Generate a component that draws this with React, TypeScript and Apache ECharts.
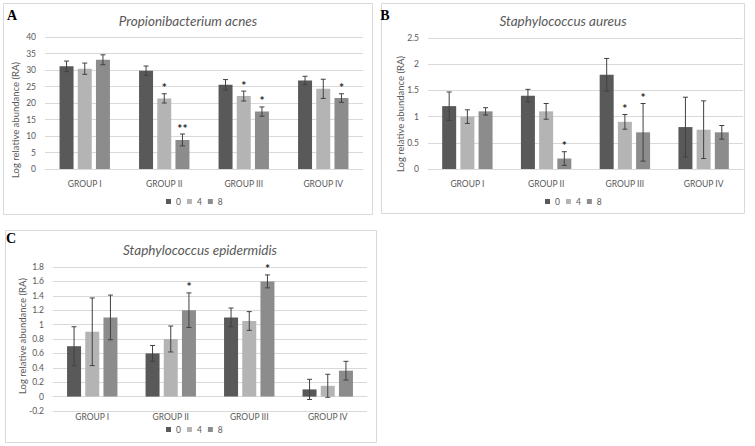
import React, { useEffect, useRef } from 'react';
import * as echarts from 'echarts';

const groups = ['GROUP I', 'GROUP II', 'GROUP III', 'GROUP IV'];
const seriesNames = ['0', '4', '8'];

// Panel A - Propionibacterium acnes
const aMean0 = [31.1, 29.8, 25.5, 26.8];
const aMean4 = [30.4, 21.4, 22.1, 24.3];
const aMean8 = [33.1, 8.8, 17.4, 21.5];
const aErr0 = [1.6, 1.4, 1.6, 1.3];
const aErr4 = [1.7, 1.4, 1.5, 2.9];
const aErr8 = [1.5, 1.8, 1.4, 1.3];
const aSig0 = ['', '', '', ''];
const aSig4 = ['', '*', '*', ''];
const aSig8 = ['', '**', '*', '*'];
const aTicks = { min: 0, max: 40, interval: 5 };

// Panel B - Staphylococcus aureus
const bMean0 = [1.2, 1.4, 1.8, 0.8];
const bMean4 = [1.0, 1.1, 0.9, 0.75];
const bMean8 = [1.1, 0.2, 0.7, 0.7];
const bErr0 = [0.27, 0.12, 0.31, 0.57];
const bErr4 = [0.13, 0.15, 0.14, 0.55];
const bErr8 = [0.07, 0.13, 0.55, 0.13];
const bSig0 = ['', '', '', ''];
const bSig4 = ['', '', '*', ''];
const bSig8 = ['', '*', '*', ''];
const bTicks = { min: 0, max: 2.5, interval: 0.5 };

// Panel C - Staphylococcus epidermidis
const cMean0 = [0.7, 0.6, 1.1, 0.1];
const cMean4 = [0.9, 0.8, 1.05, 0.15];
const cMean8 = [1.1, 1.2, 1.6, 0.36];
const cErr0 = [0.27, 0.11, 0.13, 0.14];
const cErr4 = [0.47, 0.18, 0.13, 0.16];
const cErr8 = [0.31, 0.24, 0.09, 0.13];
const cSig0 = ['', '', '', ''];
const cSig4 = ['', '', '', ''];
const cSig8 = ['', '*', '*', ''];
const cTicks = { min: -0.2, max: 1.8, interval: 0.2 };

const colors = ['#595959', '#b4b4b4', '#8c8c8c'];
const FONT = 'Lato';
const BAR_W = 14;
const GAP = 0.3;

function panelSeries(gi: number, means: number[][], errs: number[][], sigs: string[][]) {
  const out: any[] = [];
  means.forEach((m, k) => {
    out.push({
      type: 'bar',
      name: seriesNames[k],
      xAxisIndex: gi,
      yAxisIndex: gi,
      data: m,
      barWidth: BAR_W,
      barGap: GAP * 100 + '%',
      itemStyle: { color: colors[k] },
      z: 2,
    });
  });
  means.forEach((m, k) => {
    out.push({
      type: 'custom',
      name: 'err' + gi + '_' + k,
      xAxisIndex: gi,
      yAxisIndex: gi,
      z: 5,
      data: m.map((v, i) => [i, v, errs[k][i]]),
      renderItem: (params: any, api: any) => {
        const i = api.value(0);
        const v = api.value(1);
        const e = api.value(2);
        const cx = api.coord([i, v])[0] + (k - 1) * BAR_W * (1 + GAP);
        const yTop = api.coord([i, v + e])[1];
        const yBot = api.coord([i, v - e])[1];
        const st = { stroke: '#404040', lineWidth: 1 };
        const children: any[] = [
          { type: 'line', shape: { x1: cx, y1: yTop, x2: cx, y2: yBot }, style: st },
          { type: 'line', shape: { x1: cx - 2.5, y1: yTop, x2: cx + 2.5, y2: yTop }, style: st },
          { type: 'line', shape: { x1: cx - 2.5, y1: yBot, x2: cx + 2.5, y2: yBot }, style: st },
        ];
        const s = sigs[k][params.dataIndex];
        if (s) {
          children.push({
            type: 'text',
            x: cx,
            y: yTop - 6,
            style: { text: s, align: 'center', verticalAlign: 'middle', font: `bold 12px ${FONT}`, fill: '#262626' },
          });
        }
        return { type: 'group', children };
      },
    });
  });
  return out;
}

const grids = [
  { left: 45, top: 37, width: 318, height: 132 },
  { left: 428, top: 38, width: 315, height: 131 },
  { left: 53, top: 267, width: 314, height: 144 },
];

function xAxis(gi: number, labelMargin: number) {
  return {
    type: 'category',
    gridIndex: gi,
    data: groups,
    axisTick: { show: false },
    axisLine: { show: true, onZero: true, lineStyle: { color: '#d9d9d9' } },
    axisLabel: { fontSize: 8.5, color: '#595959', fontFamily: FONT, margin: labelMargin },
  };
}

function yAxis(gi: number, t: { min: number; max: number; interval: number }) {
  return {
    type: 'value',
    gridIndex: gi,
    min: t.min,
    max: t.max,
    interval: t.interval,
    axisLine: { show: false },
    axisTick: { show: false },
    splitLine: { lineStyle: { color: '#d9d9d9' } },
    axisLabel: { fontSize: 8.5, color: '#595959', fontFamily: FONT, margin: 9 },
  };
}

function legend(left: number, top: number) {
  return {
    data: seriesNames,
    left,
    top,
    icon: 'rect',
    itemWidth: 5,
    itemHeight: 5,
    itemGap: 6,
    padding: 0,
    textStyle: { fontSize: 8.5, color: '#595959', fontFamily: FONT },
    selectedMode: false,
  };
}

function txt(x: number, y: number, text: string, font: string, fill: string, rotation = 0) {
  return {
    type: 'text',
    x,
    y,
    rotation,
    style: { text, font, fill, align: 'center', verticalAlign: 'middle' },
  };
}

function box(x: number, y: number, w: number, h: number) {
  return {
    type: 'rect',
    shape: { x, y, width: w, height: h },
    style: { fill: 'none', stroke: '#d9d9d9', lineWidth: 1 },
    z: -1,
  };
}

export default function App() {
  const ref = useRef<HTMLDivElement>(null);
  useEffect(() => {
    if (!ref.current) return;
    const chart = echarts.init(ref.current, undefined, { renderer: 'svg' });
    const yName = 'Log relative abundance (RA)';
    chart.setOption({
      animation: false,
      backgroundColor: '#ffffff',
      textStyle: { fontFamily: FONT },
      grid: grids,
      xAxis: [xAxis(0, 10), xAxis(1, 10), xAxis(2, 1)],
      yAxis: [yAxis(0, aTicks), yAxis(1, bTicks), yAxis(2, cTicks)],
      legend: [legend(166, 197), legend(545, 197), legend(166, 425)],
      series: [
        ...panelSeries(0, [aMean0, aMean4, aMean8], [aErr0, aErr4, aErr8], [aSig0, aSig4, aSig8]),
        ...panelSeries(1, [bMean0, bMean4, bMean8], [bErr0, bErr4, bErr8], [bSig0, bSig4, bSig8]),
        ...panelSeries(2, [cMean0, cMean4, cMean8], [cErr0, cErr4, cErr8], [cSig0, cSig4, cSig8]),
      ],
      graphic: [
        box(3.5, 3.5, 369, 211),
        box(381.5, 3.5, 363, 210),
        box(5.5, 230.5, 371, 212),
        txt(12, 15, 'A', 'bold 14px "Liberation Serif"', '#000'),
        txt(385, 15, 'B', 'bold 14px "Liberation Serif"', '#000'),
        txt(11, 238, 'C', 'bold 14px "Liberation Serif"', '#000'),
        txt(188, 21, 'Propionibacterium acnes', `italic 13.5px ${FONT}`, '#595959'),
        txt(563, 21, 'Staphylococcus aureus', `italic 13.5px ${FONT}`, '#595959'),
        txt(200, 250, 'Staphylococcus epidermidis', `italic 13.5px ${FONT}`, '#595959'),
        txt(15, 120, yName, `9.5px ${FONT}`, '#595959', Math.PI / 2),
        txt(400, 114, yName, `9.5px ${FONT}`, '#595959', Math.PI / 2),
        txt(22, 336, yName, `9.5px ${FONT}`, '#595959', Math.PI / 2),
      ],
    });
    return () => chart.dispose();
  }, []);
  return (
    <div
      ref={ref}
      style={{ position: 'absolute', left: 0, top: 0, width: 755, height: 446, background: '#fff' }}
    />
  );
}
